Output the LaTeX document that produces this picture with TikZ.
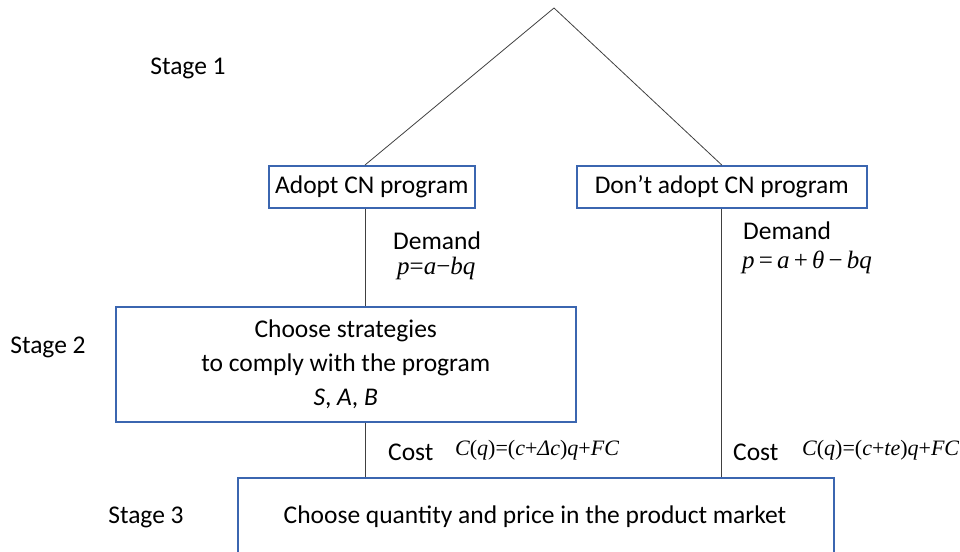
\documentclass[tikz,border=0pt]{standalone}
\usepackage{fontspec}
\setmainfont{Carlito}
\newfontfamily\tms{Liberation Serif}
\newcommand{\mi}[1]{{\tms\itshape #1}}
\newcommand{\mr}[1]{{\tms #1}}
\definecolor{boxblue}{HTML}{3B66B0}
\definecolor{linegray}{HTML}{404040}
\begin{document}
\begin{tikzpicture}[x=1pt,y=-1pt,
  box/.style={draw=boxblue,line width=1.5pt,inner sep=0pt,anchor=north west},
  txt/.style={font=\fontsize{25.5}{30}\selectfont,inner sep=0pt},
  frm/.style={font=\fontsize{25}{30}\selectfont,inner sep=0pt},
  cfrm/.style={font=\fontsize{22}{26}\selectfont,inner sep=0pt},
  conn/.style={draw=linegray,line width=0.8pt}]
\clip (0,0) rectangle (960,551);
\useasboundingbox (0,0) rectangle (960,551);
% boxes
\node[box,minimum width=206pt,minimum height=42pt] (adopt) at (268,165) {};
\node[txt] at (adopt.center) {Adopt CN program};
\node[box,minimum width=290pt,minimum height=42pt] (dont) at (576,165) {};
\node[txt] at (dont.center) {Don’t adopt CN program};
\node[box,minimum width=460pt,minimum height=115pt] (s2) at (115,306) {};
\node[txt,align=center,font=\fontsize{25.5}{34}\selectfont] at (s2.center) {Choose strategies\\to comply with the program\\\textit{S}, \textit{A}, \textit{B}};
\node[box,minimum width=596pt,minimum height=90pt] (s3) at (237,477) {};
\node[txt] (s3t) at (535,517) {Choose quantity and price in the product market};
% stage labels
\node[txt] (st1) at (188,68) {Stage 1};
\node[txt] (st2) at (48,347) {Stage 2};
\node[txt] (st3) at (146,517) {Stage 3};
% connectors
\coordinate (apex) at (554,8);
\coordinate (lt) at (365,165);
\draw[conn] (apex) -- (lt);
\draw[conn] (apex) -- (dont.north);
\draw[conn] (lt |- adopt.south) -- (lt |- s2.north);
\draw[conn] (lt |- s2.south) -- (lt |- s3.north);
\draw[conn] (dont.south) -- (dont.south |- s3.north);
% labels
\node[txt,anchor=west] (dl) at (393,241) {Demand};
\node[frm,anchor=west] (fl) at (397,268) {\mi{p}\mr{=}\mi{a}\mr{−}\mi{bq}};
\node[txt,anchor=west] (dr) at (743,231) {Demand};
\node[frm,anchor=west] (fr) at (742,262) {\mi{p}\mr{\,=\,}\mi{a}\mr{\,+\,}\mi{θ}\mr{\,−\,}\mi{bq}};
\node[txt,anchor=west] (cl) at (388,452) {Cost};
\node[cfrm,anchor=west] (cfl) at (455,450) {\mi{C}\mr{(}\mi{q}\mr{)=(}\mi{c}\mr{+}\mi{Δc}\mr{)}\mi{q}\mr{+}\mi{FC}};
\node[txt,anchor=west] (cr) at (733,452) {Cost};
\node[cfrm,anchor=west] (cfr) at (802,450) {\mi{C}\mr{(}\mi{q}\mr{)=(}\mi{c}\mr{+}\mi{te}\mr{)}\mi{q}\mr{+}\mi{FC}};
\end{tikzpicture}
\end{document}
